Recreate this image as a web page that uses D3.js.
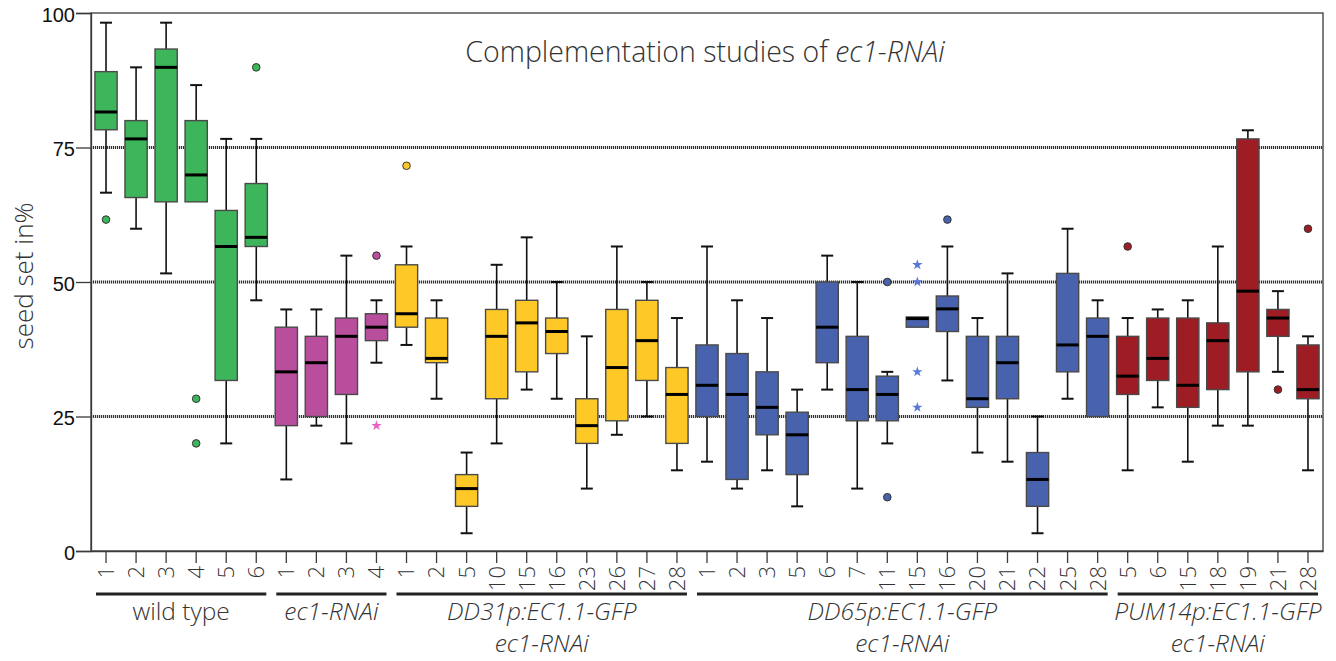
<!DOCTYPE html>
<html><head><meta charset="utf-8">
<script src="https://cdn.jsdelivr.net/npm/d3@7"></script>
<style>body{margin:0;background:#fff}svg{display:block}</style>
</head><body>
<svg id="chart" width="1336" height="661"></svg>
<script>
// ---- data ----
const tickLabels = ["1","2","3","4","5","6",
  "1","2","3","4",
  "1","2","5","10","15","16","23","26","27","28",
  "1","2","3","5","6","7","11","15","16","20","21","22","25","28",
  "5","6","15","18","19","21","28"];
const groupNames = ["wild type","ec1-RNAi","DD31p:EC1.1-GFP","DD65p:EC1.1-GFP","PUM14p:EC1.1-GFP"];
const groupSubNames = ["","","ec1-RNAi","ec1-RNAi","ec1-RNAi"];
const groupSizes = [6,4,10,14,7];
const groupColors = ["#3db55a","#b94f9c","#fec926","#4862ad","#9e1c24"];
const whiskerLow = [66.6,59.9,51.6,64.9,20.0,46.6,
  13.3,23.3,20.0,35.0,
  38.3,28.3,3.3,20.0,30.0,28.3,11.6,21.6,25.0,15.0,
  16.6,11.6,15.0,8.3,30.0,11.6,20.0,41.6,31.7,18.3,16.6,3.3,28.3,25.0,
  15.0,26.7,16.6,23.3,23.3,33.3,15.0];
const q1 = [78.3,65.7,64.9,64.9,31.7,56.6,
  23.3,25.0,29.1,39.1,
  41.6,35.0,8.3,28.3,33.3,36.7,20.0,24.2,31.7,20.0,
  25.0,13.3,21.6,14.2,35.0,24.2,24.2,41.6,40.8,26.7,28.3,8.3,33.3,25.0,
  29.1,31.7,26.7,30.0,33.3,39.9,28.3];
const median = [81.6,76.6,89.9,69.9,56.6,58.3,
  33.3,35.0,39.9,41.6,
  44.1,35.8,11.6,39.9,42.4,40.8,23.3,34.1,39.1,29.1,
  30.8,29.1,26.7,21.6,41.6,30.0,29.1,43.2,45.0,28.3,35.0,13.3,38.3,39.9,
  32.5,35.8,30.8,39.1,48.3,43.3,30.0];
const q3 = [89.1,80.0,93.3,80.0,63.3,68.3,
  41.6,39.9,43.3,44.1,
  53.2,43.3,14.2,44.9,46.6,43.3,28.3,44.9,46.6,34.1,
  38.3,36.7,33.3,25.8,50.0,39.9,32.5,43.5,47.4,39.9,39.9,18.3,51.6,43.3,
  39.9,43.3,43.3,42.4,76.6,44.9,38.3];
const whiskerHigh = [98.2,89.9,98.2,86.6,76.6,76.6,
  44.9,44.9,54.9,46.6,
  56.6,46.6,18.3,53.2,58.3,50.0,39.9,56.6,50.0,43.3,
  56.6,46.6,43.3,30.0,54.9,50.0,33.3,43.5,56.6,43.3,51.6,25.0,59.9,46.6,
  43.3,44.9,46.6,56.6,78.2,48.3,39.9];
const outliers = [[61.6],[],[],[28.3,20.0],[],[89.9],
  [],[],[],[54.9],
  [71.6],[],[],[],[],[],[],[],[],[],
  [],[],[],[],[],[],[50.0,10.0],[],[61.6],[],[],[],[],[],
  [56.6],[],[],[],[],[30.0],[59.9]];
const extremes = [[],[],[],[],[],[],
  [],[],[],[23.3],
  [],[],[],[],[],[],[],[],[],[],
  [],[],[],[],[],[],[],[53.2,50.0,33.3,26.7],[],[],[],[],[],[],
  [],[],[],[],[],[],[]];
const yTicks = [0,25,50,75,100];
const refLines = [25,50,75];

// ---- layout ----
const svg = d3.select("#chart");
const L = 91, R = 1323, T = 13, B = 551;
const n = tickLabels.length;
const x = d3.scaleBand().domain(d3.range(n)).range([L, R]).paddingInner(0.26).paddingOuter(0.13);
const y = d3.scaleLinear().domain([0,100]).range([B, T]);
const groupOf = [];
groupSizes.forEach((s,g)=>{for(let i=0;i<s;i++)groupOf.push(g);});
const cx = i => x(i) + x.bandwidth()/2;
const bw = x.bandwidth();

// frame
svg.append("rect").attr("x",L).attr("y",T).attr("width",R-L).attr("height",B-T)
  .attr("fill","none").attr("stroke","#3a3a3a").attr("stroke-width",1.3);

// reference lines
svg.selectAll(".ref").data(refLines).join("line")
  .attr("x1",L).attr("x2",R).attr("y1",d=>y(d)).attr("y2",d=>y(d))
  .attr("stroke","#333").attr("stroke-width",3).attr("stroke-dasharray","1.2,0.8");

// y axis
const yAxis = svg.append("g").attr("transform",`translate(${L},0)`)
  .call(d3.axisLeft(y).tickValues(yTicks).tickSize(15).tickPadding(1));
yAxis.select(".domain").attr("stroke","#3a3a3a").attr("stroke-width",1.3);
yAxis.selectAll(".tick line").attr("stroke","#3a3a3a").attr("stroke-width",1.3);
yAxis.selectAll("text").attr("font-family","Liberation Sans, Arial, sans-serif")
  .attr("font-size",20).attr("fill","#111").attr("dy","0.4em");

// x axis
const xAxis = svg.append("g").attr("transform",`translate(0,${B})`)
  .call(d3.axisBottom(x).tickFormat(i=>tickLabels[i]).tickSize(12).tickSizeOuter(0));
xAxis.select(".domain").attr("stroke","#3a3a3a").attr("stroke-width",1.3);
xAxis.selectAll(".tick line").attr("stroke","#3a3a3a").attr("stroke-width",1.3);
xAxis.selectAll("text").attr("font-family","Open Sans, sans-serif").attr("font-weight",300)
  .attr("font-size",22).attr("fill","#333")
  .attr("transform","rotate(-90)").attr("text-anchor","end")
  .attr("x",-15).attr("y",0).attr("dy","0.36em");

// boxes
const boxes = svg.append("g").selectAll("g").data(d3.range(n)).join("g");
boxes.append("line").attr("x1",cx).attr("x2",cx)
  .attr("y1",i=>y(whiskerHigh[i])).attr("y2",i=>y(q3[i]))
  .attr("stroke","#111").attr("stroke-width",1.6);
boxes.append("line").attr("x1",cx).attr("x2",cx)
  .attr("y1",i=>y(q1[i])).attr("y2",i=>y(whiskerLow[i]))
  .attr("stroke","#111").attr("stroke-width",1.6);
boxes.filter(i=>whiskerHigh[i]>q3[i]).append("line").attr("x1",i=>cx(i)-6).attr("x2",i=>cx(i)+6)
  .attr("y1",i=>y(whiskerHigh[i])).attr("y2",i=>y(whiskerHigh[i]))
  .attr("stroke","#111").attr("stroke-width",2);
boxes.filter(i=>whiskerLow[i]<q1[i]).append("line").attr("x1",i=>cx(i)-6).attr("x2",i=>cx(i)+6)
  .attr("y1",i=>y(whiskerLow[i])).attr("y2",i=>y(whiskerLow[i]))
  .attr("stroke","#111").attr("stroke-width",2);
boxes.append("rect").attr("x",i=>x(i)).attr("width",bw)
  .attr("y",i=>y(q3[i])).attr("height",i=>y(q1[i])-y(q3[i]))
  .attr("fill",i=>groupColors[groupOf[i]]).attr("stroke","#4a4a4a").attr("stroke-width",1.4);
boxes.append("line").attr("x1",i=>x(i)).attr("x2",i=>x(i)+bw)
  .attr("y1",i=>y(median[i])).attr("y2",i=>y(median[i]))
  .attr("stroke","#000").attr("stroke-width",3);

// outliers
const outData = [];
outliers.forEach((arr,i)=>arr.forEach(v=>outData.push({i,v})));
svg.append("g").selectAll("circle").data(outData).join("circle")
  .attr("cx",d=>cx(d.i)).attr("cy",d=>y(d.v)).attr("r",3.8)
  .attr("fill",d=>groupColors[groupOf[d.i]]).attr("stroke","#333").attr("stroke-width",1);
const extData = [];
extremes.forEach((arr,i)=>arr.forEach(v=>extData.push({i,v})));
svg.append("g").selectAll("path").data(extData).join("path")
  .attr("d",d3.symbol(d3.symbolStar,34))
  .attr("transform",d=>`translate(${cx(d.i)},${y(d.v)})`)
  .attr("fill",d=>d3.color(groupColors[groupOf[d.i]]).brighter(0.6));

// group brackets and labels
let start = 0;
groupSizes.forEach((s,g)=>{
  const x0 = x(start) - x.step()*x.paddingInner()/2 + 5;
  const x1 = x(start+s-1) + bw + x.step()*x.paddingInner()/2 - 5;
  svg.append("line").attr("x1",x0).attr("x2",x1).attr("y1",594).attr("y2",594)
    .attr("stroke","#222").attr("stroke-width",3);
  const mid = (x0+x1)/2;
  svg.append("text").attr("x",mid).attr("y",620).attr("text-anchor","middle")
    .attr("font-family","Open Sans, sans-serif").attr("font-weight",300)
    .attr("font-style",g===0?"normal":"italic").attr("font-size",24.5).attr("fill","#333")
    .text(groupNames[g]);
  if(groupSubNames[g]) svg.append("text").attr("x",mid).attr("y",652).attr("text-anchor","middle")
    .attr("font-family","Open Sans, sans-serif").attr("font-weight",300)
    .attr("font-style","italic").attr("font-size",24.5).attr("fill","#333")
    .text(groupSubNames[g]);
  start += s;
});

// y title
svg.append("text").attr("transform","translate(33,276) rotate(-90)").attr("text-anchor","middle")
  .attr("font-family","Open Sans, sans-serif").attr("font-weight",300).attr("font-size",26).attr("fill","#333")
  .text("seed set in%");

// title
const title = svg.append("text").attr("x",705).attr("y",62).attr("text-anchor","middle")
  .attr("font-family","Open Sans, sans-serif").attr("font-weight",300).attr("font-size",28.5).attr("fill","#333");
title.append("tspan").text("Complementation studies of ");
title.append("tspan").attr("font-style","italic").text("ec1-RNAi");
</script>
</body></html>
